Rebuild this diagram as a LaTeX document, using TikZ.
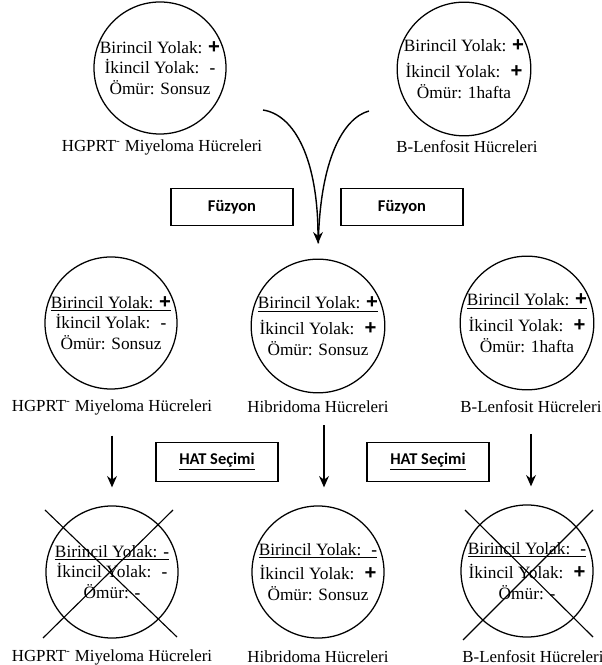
\documentclass[tikz,border=0pt]{standalone}
\usepackage{fontspec}
\setmainfont{Liberation Serif}
\setsansfont{Liberation Sans}
\newfontfamily\boxfont{Carlito}
\usetikzlibrary{arrows.meta,calc}

\newcommand{\psign}{{\Large\sffamily\bfseries +}}
\newcommand{\msign}{\textbf{-}}

\begin{document}
\begin{tikzpicture}[x=0.025cm,y=0.025cm,
  cell/.style={circle,draw=black,line width=0.9pt,minimum size=3.3cm,inner sep=0pt,align=center,font=\fontsize{12.3}{14.5}\selectfont},
  lbl/.style={font=\fontsize{12}{14}\selectfont},
  stepbox/.style={draw=black,line width=1pt,minimum width=3.05cm,minimum height=0.92cm,font=\fontsize{11.7}{14}\boxfont\bfseries},
  arr/.style={-{Stealth[length=8pt,width=7pt]},line width=1pt},
  cross/.style={line width=0.8pt}]

\useasboundingbox (0,0) rectangle (602,665);

% ust sira
\node[cell] (A) at (160,597) {Birincil Yolak: \psign\\ İkincil Yolak:~ \msign\\ Ömür: Sonsuz};
\node[cell] (B) at (464,596) {Birincil Yolak: \psign\\[4pt] İkincil Yolak:~ \psign\\ Ömür: 1hafta};
\node[lbl] (Al) at (162,518) {HGPRT\textsuperscript{-} Miyeloma Hücreleri};
\node[lbl] (Bl) at (467,518) {B-Lenfosit Hücreleri};

\node[stepbox] (f1) at (232,458) {Füzyon};
\node[stepbox] (f2) at (402,458) {Füzyon};

% orta sira
\node[cell] (C) at (111,342) {\underline{Birincil Yolak: \psign}\\ İkincil Yolak:~ \msign\\ Ömür: Sonsuz};
\node[cell] (D) at (318,339) {\underline{Birincil Yolak: \psign}\\[4pt] İkincil Yolak:~ \psign\\ Ömür: Sonsuz};
\node[cell] (E) at (527,342) {\underline{Birincil Yolak: \psign}\\[4pt] İkincil Yolak:~ \psign\\ Ömür: 1hafta};
\node[lbl] (Cl) at (112,258) {HGPRT\textsuperscript{-} Miyeloma Hücreleri};
\node[lbl] (Dl) at (318,258) {Hibridoma Hücreleri};
\node[lbl] (El) at (531,258) {B-Lenfosit Hücreleri};

\coordinate (fl) at (263,555);
\coordinate (fr) at (369,554);
\draw[line width=1pt,shorten >=0.38cm] (fr) .. controls (343,547) and (320,505) .. (D.north);
\draw[arr,shorten >=0.38cm] (fl) .. controls (295,550) and (318,505) .. (D.north);

\node[stepbox,minimum height=0.97cm] (h1) at (217,203) {\underline{HAT Seçimi}};
\node[stepbox,minimum height=0.97cm] (h2) at (428,203) {\underline{HAT Seçimi}};

% alt sira
\node[cell] (F) at (112,93) {\underline{Birincil Yolak: \msign}\\ İkincil Yolak:~ \msign\\ Ömür: \msign};
\node[cell] (G) at (318,93) {\underline{Birincil Yolak:~ \msign}\\[3pt] İkincil Yolak:~ \psign\\ Ömür: Sonsuz};
\node[cell] (H) at (527,94) {\underline{Birincil Yolak:~ \msign}\\[3pt] İkincil Yolak:~ \psign\\ Ömür: \msign};
\node[lbl] (Fl) at (112,8) {HGPRT\textsuperscript{-} Miyeloma Hücreleri};
\node[lbl] (Gl) at (318,8) {Hibridoma Hücreleri};
\node[lbl] (Hl) at (533,8) {B-Lenfosit Hücreleri};

\draw[arr,shorten <=0.4cm,shorten >=0.45cm] (Cl.south) -- (F.north);
\draw[arr,shorten <=0.18cm,shorten >=0.45cm] ([xshift=0.15cm]Dl.south) -- ([xshift=0.15cm]G.north);
\draw[arr,shorten <=0.4cm,shorten >=0.45cm] (El.south) -- (El.south |- H.north);

\draw[cross] ($(F)+(-67,62)$) -- ($(F)+(65,-65)$);
\draw[cross] ($(F)+(61,62)$) -- ($(F)+(-69,-66)$);
\draw[cross] ($(H)+(-62,61)$) -- ($(H)+(66,-66)$);
\draw[cross] ($(H)+(66,61)$) -- ($(H)+(-64,-69)$);

\end{tikzpicture}
\end{document}
